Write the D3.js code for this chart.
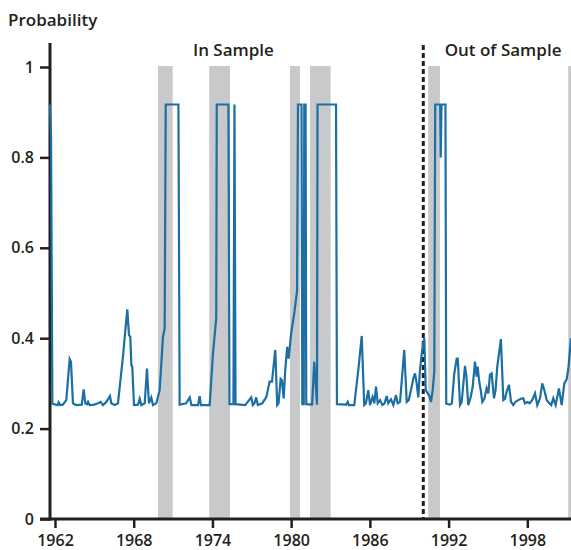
<!DOCTYPE html>
<html>
<head>
<meta charset="utf-8">
<script src="https://cdn.jsdelivr.net/npm/d3@7"></script>
<style>
  html, body { margin: 0; padding: 0; background: #ffffff; }
  svg { display: block; }
  text { font-family: "Open Sans", Lato, sans-serif; fill: #231f20; }
</style>
</head>
<body>
<div id="chart"></div>
<script>
// ---------- data ----------
const dates = [
  1961.62, 1961.70, 1961.80, 1962.05, 1962.20, 1962.28, 1962.40, 1962.60, 1962.86, 1963.12,
  1963.22, 1963.37, 1963.60, 1964.04, 1964.19, 1964.31, 1964.45, 1964.52, 1964.64, 1965.00,
  1965.28, 1965.48, 1965.66, 1965.91, 1966.04, 1966.19, 1966.29, 1966.55, 1966.80, 1967.18,
  1967.51, 1967.64, 1967.74, 1967.82, 1967.89, 1968.02, 1968.33, 1968.46, 1968.58, 1968.84,
  1969.01, 1969.16, 1969.34, 1969.47, 1969.72, 1969.98, 1970.23, 1970.36, 1970.44, 1971.41,
  1971.50, 1972.00, 1972.27, 1972.40, 1972.90, 1973.03, 1973.12, 1973.79, 1974.04, 1974.29,
  1974.33, 1975.22, 1975.30, 1975.60, 1975.68, 1975.76, 1976.50, 1976.96, 1977.08, 1977.20,
  1977.34, 1977.46, 1977.80, 1978.11, 1978.36, 1978.54, 1978.79, 1978.94, 1979.04, 1979.20,
  1979.30, 1979.43, 1979.55, 1979.70, 1979.81, 1980.00, 1980.25, 1980.45, 1980.52, 1980.79,
  1980.85, 1980.96, 1981.00, 1981.10, 1981.15, 1981.60, 1981.76, 1981.97, 1982.01, 1983.42,
  1983.49, 1984.20, 1984.31, 1984.40, 1984.81, 1985.12, 1985.38, 1985.57, 1985.70, 1985.88,
  1986.01, 1986.21, 1986.34, 1986.47, 1986.60, 1986.78, 1986.95, 1987.12, 1987.28, 1987.40,
  1987.61, 1987.79, 1987.99, 1988.12, 1988.30, 1988.62, 1988.81, 1988.96, 1989.13, 1989.31,
  1989.44, 1989.57, 1989.69, 1989.82, 1990.00, 1990.15, 1990.26, 1990.41, 1990.53, 1990.66,
  1990.79, 1990.91, 1990.98, 1991.36, 1991.40, 1991.46, 1991.76, 1991.82, 1992.10, 1992.25,
  1992.43, 1992.62, 1992.70, 1992.87, 1993.00, 1993.25, 1993.36, 1993.50, 1993.68, 1993.84,
  1994.01, 1994.14, 1994.22, 1994.32, 1994.45, 1994.57, 1994.73, 1994.90, 1995.03, 1995.15,
  1995.28, 1995.46, 1995.58, 1995.71, 1995.99, 1996.17, 1996.30, 1996.43, 1996.60, 1996.76,
  1996.93, 1997.10, 1997.31, 1997.50, 1997.69, 1997.82, 1998.00, 1998.18, 1998.37, 1998.59,
  1998.76, 1998.97, 1999.14, 1999.30, 1999.48, 1999.60, 1999.82, 1999.98, 2000.16, 2000.41,
  2000.62, 2000.82, 2001.00, 2001.13, 2001.33
];
const probability = [
  0.917, 0.845, 0.255, 0.253, 0.252, 0.258, 0.252, 0.253, 0.263, 0.354,
  0.348, 0.256, 0.252, 0.253, 0.287, 0.256, 0.254, 0.259, 0.252, 0.253,
  0.256, 0.259, 0.252, 0.259, 0.265, 0.272, 0.256, 0.252, 0.256, 0.359,
  0.464, 0.407, 0.403, 0.341, 0.337, 0.252, 0.253, 0.266, 0.252, 0.256,
  0.333, 0.256, 0.269, 0.252, 0.256, 0.285, 0.403, 0.422, 0.917, 0.917,
  0.253, 0.256, 0.269, 0.252, 0.252, 0.272, 0.252, 0.252, 0.366, 0.444,
  0.917, 0.917, 0.254, 0.254, 0.917, 0.254, 0.252, 0.269, 0.252, 0.256,
  0.269, 0.252, 0.256, 0.270, 0.304, 0.304, 0.374, 0.252, 0.256, 0.310,
  0.307, 0.267, 0.330, 0.381, 0.355, 0.410, 0.458, 0.505, 0.917, 0.917,
  0.254, 0.254, 0.917, 0.917, 0.254, 0.253, 0.348, 0.253, 0.917, 0.917,
  0.254, 0.253, 0.259, 0.252, 0.252, 0.330, 0.405, 0.252, 0.256, 0.285,
  0.252, 0.270, 0.256, 0.293, 0.256, 0.263, 0.252, 0.256, 0.272, 0.256,
  0.265, 0.252, 0.274, 0.256, 0.259, 0.374, 0.259, 0.263, 0.285, 0.311,
  0.322, 0.300, 0.269, 0.330, 0.378, 0.400, 0.285, 0.278, 0.272, 0.259,
  0.285, 0.326, 0.917, 0.917, 0.800, 0.917, 0.917, 0.255, 0.253, 0.256,
  0.321, 0.355, 0.355, 0.252, 0.259, 0.339, 0.315, 0.252, 0.269, 0.293,
  0.348, 0.315, 0.337, 0.307, 0.285, 0.259, 0.266, 0.289, 0.278, 0.319,
  0.322, 0.267, 0.285, 0.337, 0.398, 0.263, 0.266, 0.282, 0.297, 0.259,
  0.252, 0.259, 0.263, 0.266, 0.267, 0.256, 0.259, 0.256, 0.263, 0.278,
  0.252, 0.267, 0.300, 0.285, 0.263, 0.259, 0.252, 0.267, 0.252, 0.289,
  0.252, 0.300, 0.309, 0.333, 0.400
];
const recessionStart = [1969.85, 1973.76, 1979.91, 1981.44, 1990.45, 2001.12];
const recessionEnd   = [1970.97, 1975.34, 1980.67, 1983.01, 1991.34, 2001.33];
const splitDate = 1990.07;
const xTicks = [1962, 1968, 1974, 1980, 1986, 1992, 1998];
const yTicks = [0, 0.2, 0.4, 0.6, 0.8, 1];
const yTickLabels = ["0", "0.2", "0.4", "0.6", "0.8", "1"];
const periodLabels = ["In Sample", "Out of Sample"];
const periodCenters = [1975.6, 1996.15];

// ---------- chart ----------
const W = 571, H = 550;
const FONT = "'Open Sans', Lato, sans-serif";
const svg = d3.select("#chart").append("svg").attr("width", W).attr("height", H);

const x = d3.scaleLinear().domain([1961.62, 2001.33]).range([50, 571]);
const y = d3.scaleLinear().domain([0, 1]).range([519, 67]);

// recession shading
svg.append("g").selectAll("rect")
  .data(recessionStart.map((s, i) => [s, recessionEnd[i]]))
  .join("rect")
  .attr("x", d => x(d[0]))
  .attr("width", d => x(d[1]) - x(d[0]))
  .attr("y", y(1) - 1)
  .attr("height", y(0) - y(1) + 1)
  .attr("fill", "#c8c9cb");

// split line
svg.append("line")
  .attr("x1", x(splitDate)).attr("x2", x(splitDate))
  .attr("y1", 45).attr("y2", y(0))
  .attr("stroke", "#231f20").attr("stroke-width", 3)
  .attr("stroke-dasharray", "5,3");

// axes
const yAxis = d3.axisLeft(y).tickValues(yTicks).tickFormat((d, i) => yTickLabels[i])
  .tickSize(10).tickPadding(6);
const gy = svg.append("g").attr("transform", "translate(50,0)").call(yAxis);
gy.select(".domain").remove();
gy.selectAll(".tick line").attr("stroke", "#231f20").attr("stroke-width", 2.5);
gy.selectAll(".tick text").attr("font-size", 16).attr("font-weight", 600)
  .attr("fill", "#231f20").attr("font-family", FONT);

const xAxis = d3.axisBottom(x).tickValues(xTicks).tickFormat(d3.format("d"))
  .tickSize(9).tickPadding(7);
const gx = svg.append("g").attr("transform", `translate(0,${y(0)})`).call(xAxis);
gx.select(".domain").remove();
gx.selectAll(".tick line").attr("stroke", "#231f20").attr("stroke-width", 2.5);
gx.selectAll(".tick text").attr("font-size", 16).attr("font-weight", 600)
  .attr("fill", "#231f20").attr("font-family", FONT);

// axis lines
svg.append("line").attr("x1", 40).attr("x2", W).attr("y1", y(0)).attr("y2", y(0))
  .attr("stroke", "#231f20").attr("stroke-width", 3);
svg.append("line").attr("x1", 50).attr("x2", 50).attr("y1", 43).attr("y2", y(0) + 1.5)
  .attr("stroke", "#231f20").attr("stroke-width", 3);

// probability line
const line = d3.line().x((d, i) => x(dates[i])).y(d => y(d));
svg.append("path")
  .datum(probability)
  .attr("d", line)
  .attr("fill", "none")
  .attr("stroke", "#1b6fa3")
  .attr("stroke-width", 2.2)
  .attr("stroke-linejoin", "miter");

// labels
svg.append("text").attr("x", 8).attr("y", 26).text("Probability")
  .attr("font-size", 17).attr("font-weight", 600);
svg.selectAll(".period").data(periodLabels).join("text")
  .attr("class", "period")
  .attr("x", (d, i) => x(periodCenters[i]))
  .attr("y", 56)
  .attr("text-anchor", "middle")
  .attr("font-size", 17).attr("font-weight", 600)
  .text(d => d);
</script>
</body>
</html>
